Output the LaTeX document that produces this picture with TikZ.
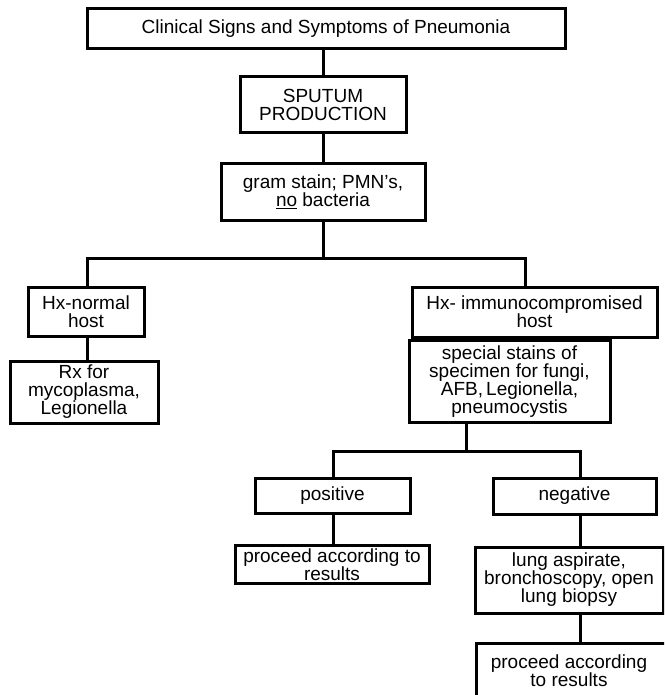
\documentclass[tikz,border=0pt]{standalone}
\usepackage{fontspec}
\setmainfont{Liberation Sans}
\begin{document}
\begin{tikzpicture}[x=1pt,y=-1pt,
  txt/.style={font=\fontsize{19}{18}\selectfont,align=center},
  box/.style={txt,draw,line width=3pt,rectangle,inner sep=0pt},
  link/.style={line width=3pt,line cap=rect,line join=miter}]
\clip (0,0) rectangle (664,695);
\fill[white] (0,0) rectangle (664,695);

% main column
\node[box,minimum width=478pt,minimum height=40pt] (top) at (326,29)
  {Clinical Signs and Symptoms of Pneumonia};
\node[box,minimum width=166pt,minimum height=56pt] (sputum) at (323,105)
  {SPUTUM\\PRODUCTION};
\node[box,minimum width=204pt,minimum height=56pt] (gram) at (323,192)
  {gram stain; PMN's,\\\underline{no} bacteria};

% history branch
\node[box,minimum width=116pt,minimum height=49pt] (hxn) at (86,311.5)
  {Hx-normal\\host};
\node[box,minimum width=148pt,minimum height=62pt] (rx) at (84,392)
  {Rx for\\mycoplasma,\\Legionella};
\node[box,minimum width=245pt,minimum height=50pt] (hxi) at (534.5,312)
  {Hx- immunocompromised\\host};
\node[box,minimum width=201pt,minimum height=82pt] (stains) at (509.5,381.5)
  {special stains of\\specimen for fungi,\\AFB,\,Legionella,\\pneumocystis};

% stain results
\node[box,minimum width=155pt,minimum height=35pt] (pos) at (332.5,495.5)
  {positive};
\node[box,minimum width=194pt,minimum height=38pt] (proc1) at (332,564.5)
  {proceed according to\\results};
\node[box,minimum width=163pt,minimum height=36pt] (neg) at (574.5,496)
  {negative};
\node[box,minimum width=188pt,minimum height=66pt] (lung) at (569,580)
  {lung aspirate,\\bronchoscopy, open\\lung biopsy};
\node[box,minimum width=225pt,minimum height=78pt,anchor=north west] (proc2) at (475,642)
  {};
\node[txt] (proc2txt) at (569,671)
  {proceed according\\to results};

% junctions
\coordinate (jl) at (87,258);
\coordinate (jr) at (525,258);
\coordinate (kl) at (333,451);
\coordinate (kr) at (580,451);

% connectors
\draw[link] (top.south -| gram.south) -- (sputum.north -| gram.south);
\draw[link] (sputum.south -| gram.south) -- (gram.north);
\draw[link] (gram.south) -- (gram.south |- jl);
\draw[link] (hxn.north -| jl) -- (jl) -- (jr) -- (hxi.north -| jr);
\draw[link] (hxn.south -| jl) -- (rx.north -| jl);
\draw[link] (hxi.south -| 523,0) -- (stains.north -| 523,0);
\draw[link] (stains.south -| 466,0) -- (kl -| 466,0);
\draw[link] (pos.north -| kl) -- (kl) -- (kr) -- (neg.north -| kr);
\draw[link] (pos.south -| kl) -- (proc1.north -| kl);
\draw[link] (neg.south -| kr) -- (lung.north -| kr);
\draw[link] (lung.south -| kr) -- (proc2.north -| kr);
\end{tikzpicture}
\end{document}
